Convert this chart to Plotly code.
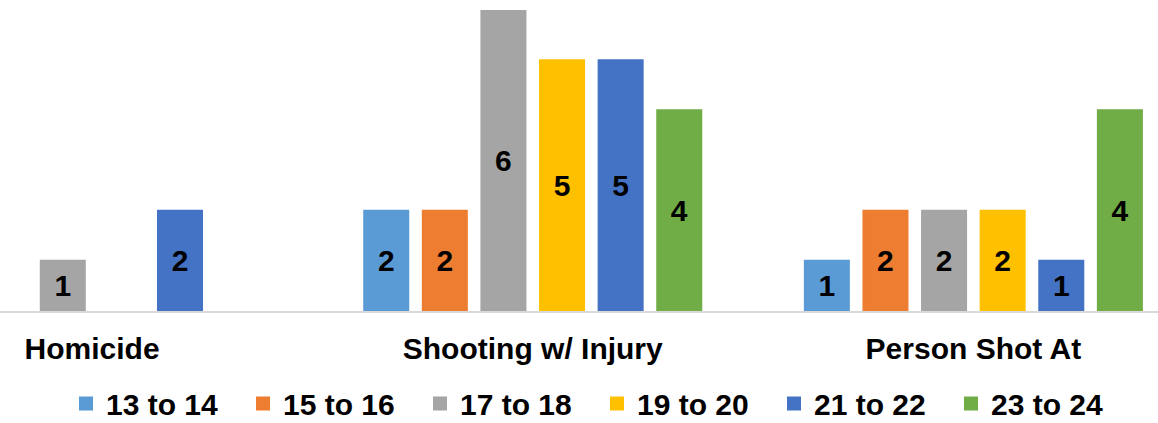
import plotly.graph_objects as go

categories = ["Homicide", "Shooting w/ Injury", "Person Shot At"]
series_names = ["13 to 14", "15 to 16", "17 to 18", "19 to 20", "21 to 22", "23 to 24"]
values_13_14 = [None, 2, 1]
values_15_16 = [None, 2, 2]
values_17_18 = [1, 6, 2]
values_19_20 = [None, 5, 2]
values_21_22 = [2, 5, 1]
values_23_24 = [None, 4, 4]
colors = ["#5B9BD5", "#ED7D31", "#A5A5A5", "#FFC000", "#4472C4", "#70AD47"]

all_values = [values_13_14, values_15_16, values_17_18, values_19_20, values_21_22, values_23_24]

FONT = "Liberation Sans, Arial, sans-serif"

fig = go.Figure()
for name, vals, col in zip(series_names, all_values, colors):
    fig.add_trace(go.Bar(
        name=name, x=categories, y=vals,
        marker=dict(color=col, line=dict(width=2, color=col)),
        texttemplate="%{y}", textposition="inside", insidetextanchor="middle",
        textangle=0, constraintext="none",
        textfont=dict(family=FONT, size=30, color="black", weight="bold"),
    ))

fig.update_layout(
    width=1158, height=423,
    margin=dict(l=0, r=0, t=10, b=112),
    paper_bgcolor="white", plot_bgcolor="white",
    barmode="group", bargap=0.202, bargroupgap=0.249,
    xaxis=dict(
        type="category", range=[-0.209, 2.419],
        showline=True, linecolor="#D9D9D9", linewidth=1.5,
        showgrid=False, ticks="", zeroline=False,
        tickfont=dict(family=FONT, size=30, color="black", weight="bold"),
        ticklabelstandoff=10,
    ),
    yaxis=dict(range=[0, 6], visible=False, showgrid=False, zeroline=False),
    showlegend=True,
    legend=dict(
        orientation="h", x=0.057, xanchor="left",
        yref="container", y=0.046, yanchor="middle",
        entrywidth=132, entrywidthmode="pixels",
        font=dict(family=FONT, size=30, color="black", weight="bold"),
        itemclick=False, traceorder="normal",
    ),
)

fig.write_html(
    "out.html",
    config={"displayModeBar": False},
    post_script="document.body.style.margin='0';document.body.style.overflow='hidden';",
)
